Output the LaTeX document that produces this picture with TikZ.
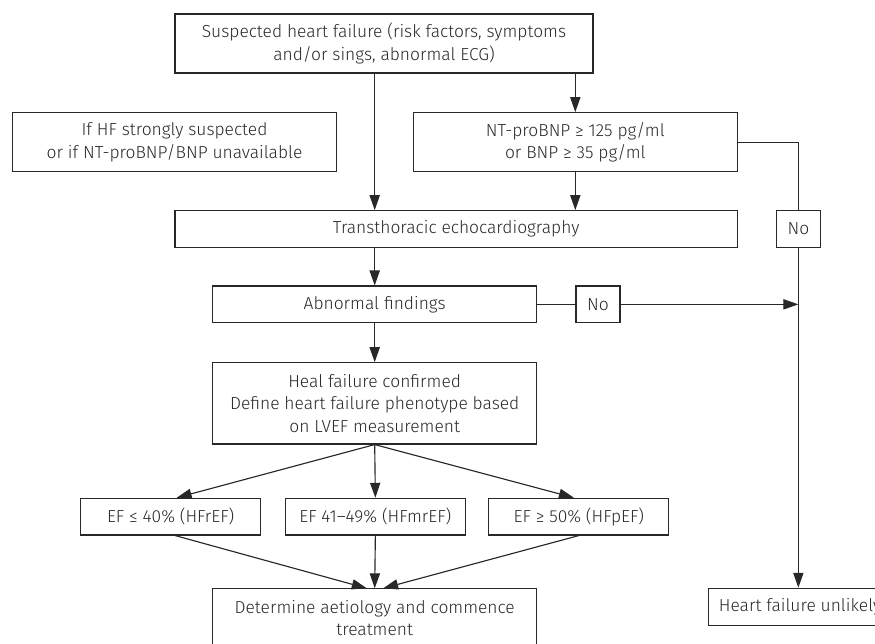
\documentclass[tikz,border=0pt]{standalone}
\usepackage{fontspec}
\setmainfont{Fira Sans Light}
\usetikzlibrary{arrows.meta,positioning,calc}
\definecolor{inkgray}{RGB}{40,40,40}

\begin{document}
\begin{tikzpicture}[
  fbox/.style={rectangle,draw=inkgray,line width=0.65pt,inner sep=0pt,align=center,
               text=inkgray,font=\fontsize{9.9}{12.7}\selectfont,minimum width=6.48cm,minimum height=1.18cm},
  nobox/.style={fbox,minimum width=0.89cm,minimum height=0.732cm},
  efbox/.style={fbox,minimum width=3.6cm,minimum height=0.734cm},
  line/.style={line width=0.65pt,inkgray},
  arrow/.style={line,-{Triangle[length=8.5pt,width=5.8pt]}}]
\useasboundingbox (0,0) rectangle (17.5,-12.88);
\node[fbox,minimum width=8.36cm] (top) at (7.68,-0.87)
  {Suspected heart failure (risk factors, symptoms\\and/or sings, abnormal ECG)};
\node[fbox] (ifhf) at (3.49,-2.844)
  {If HF strongly suspected\\or if NT-proBNP/BNP unavailable};
\node[fbox] (bnp) at (11.506,-2.844)
  {NT-proBNP ≥ 125 pg/ml\\or BNP ≥ 35 pg/ml};
\node[fbox,minimum width=11.246cm,minimum height=0.732cm] (tte) at (9.123,-4.58)
  {Transthoracic echocardiography};
\node[nobox] (noa) at (15.967,-4.58) {No};
\node[fbox,minimum height=0.734cm] (abn) at (7.494,-6.087) {Abnormal findings};
\node[nobox,minimum width=0.88cm] (nob) at (11.96,-6.087) {No};
\node[fbox,minimum height=1.626cm] (conf) at (7.494,-8.067)
  {Heal failure confirmed\\Define heart failure phenotype based\\on LVEF measurement};
\node[efbox] (efr) at (3.414,-10.333) {EF ≤ 40\% (HFrEF)};
\node[efbox] (efm) at (7.507,-10.333) {EF 41–49\% (HFmrEF)};
\node[efbox] (efp) at (11.577,-10.333) {EF ≥ 50\% (HFpEF)};
\node[fbox,anchor=north] (treat) at (7.494,-11.766)
  {Determine aetiology and commence\\treatment};
\node[fbox,minimum width=0pt,minimum height=0.748cm,inner xsep=0.2cm,anchor=west] (unlikely) at (14.166,-12.14)
  {Heart failure unlikely};
% main path
\draw[arrow] (top.south -| abn) -- (tte.north -| abn);
\draw[arrow] (top.south -| bnp) -- (bnp.north);
\draw[arrow] (bnp.south) -- (bnp.south |- tte.north);
\draw[arrow] (tte.south -| abn) -- (abn.north);
\draw[arrow] (abn.south) -- (conf.north);
% negative branches
\draw[line] (bnp.east) -| (noa.north);
\draw[arrow] (noa.south) -- (noa.south |- unlikely.north);
\draw[line] (abn.east) -- (nob.west);
\draw[arrow] (nob.east) -- (nob.east -| noa.south);
% phenotypes
\draw[arrow] (conf.south) -- ([xshift=0.12cm]efr.north);
\draw[arrow] (conf.south) -- (efm.north);
\draw[arrow] (conf.south) -- ([xshift=-0.1cm]efp.north);
\draw[arrow] ([xshift=0.09cm]efr.south) -- ([xshift=-0.16cm]treat.north);
\draw[arrow] (efm.south) -- (treat.north);
\draw[arrow] (efp.south) -- ([xshift=0.17cm]treat.north);
\end{tikzpicture}
\end{document}
